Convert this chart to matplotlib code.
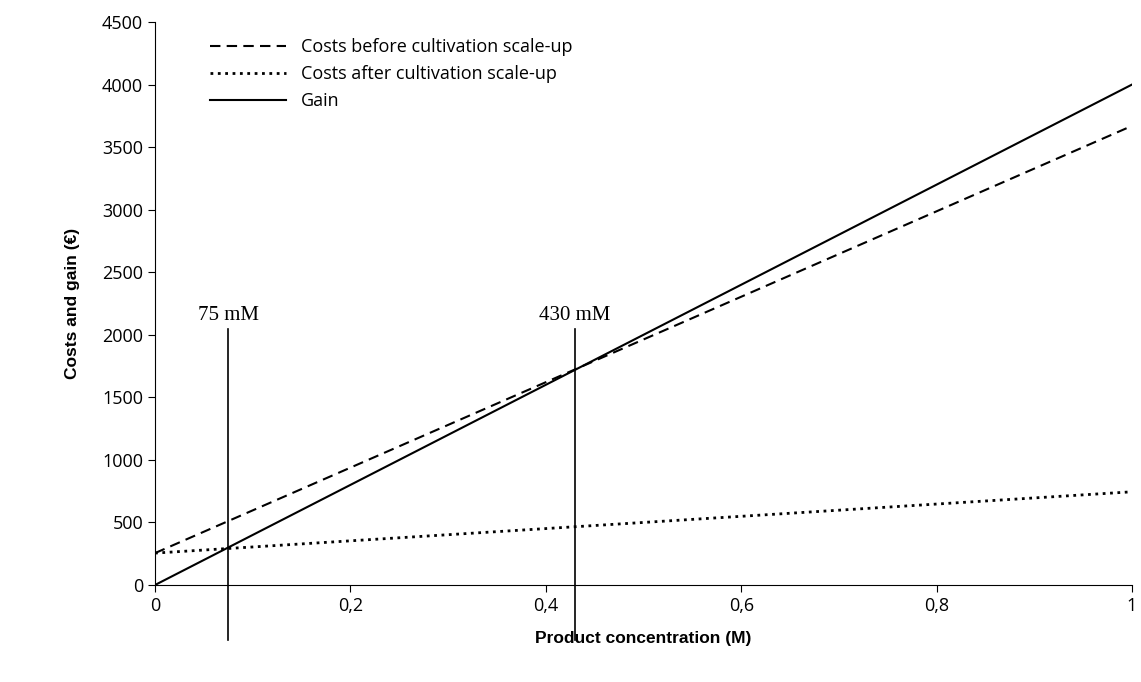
import matplotlib.pyplot as plt
import numpy as np

conc = [0, 1]
costs_before = [255, 3670]
costs_after = [255, 745]
gain = [0, 4000]
markers = [0.075, 0.43]
marker_labels = ["75 mM", "430 mM"]
xticks = [0, 0.2, 0.4, 0.6, 0.8, 1]
xticklabels = ["0", "0,2", "0,4", "0,6", "0,8", "1"]
yticks = list(range(0, 4501, 500))

plt.rcParams['font.family'] = ['Open Sans', 'DejaVu Sans']
fig = plt.figure(figsize=(11.41, 6.82), dpi=100)
ax = fig.add_axes([155 / 1141, 1 - 585 / 682, (1132 - 155) / 1141, (585 - 22) / 682])

ax.plot(conc, costs_before, 'k--', lw=1.5, dashes=(5, 3), label="Costs before cultivation scale-up")
ax.plot(conc, costs_after, 'k:', lw=2, label="Costs after cultivation scale-up")
ax.plot(conc, gain, 'k-', lw=1.5, label="Gain")

for xm, lab in zip(markers, marker_labels):
    ax.plot([xm, xm], [-440, 2050], 'k-', lw=1.2, clip_on=False)
    ax.text(xm, 2080, lab, ha='center', va='bottom', fontsize=15, family='Liberation Serif')

ax.set_xlim(0, 1)
ax.set_ylim(0, 4500)
ax.set_xticks(xticks)
ax.set_xticklabels(xticklabels)
ax.set_yticks(yticks)
ax.tick_params(labelsize=13, length=5)
ax.spines['top'].set_visible(False)
ax.spines['right'].set_visible(False)
ax.set_xlabel("Product concentration (M)", fontsize=12.5, fontweight='bold', labelpad=12,
              family='Liberation Sans')
ax.set_ylabel("Costs and gain (€)", fontsize=12.5, fontweight='bold', labelpad=16,
              family='Liberation Sans')
ax.legend(loc='upper left', bbox_to_anchor=(0.04, 1.0), frameon=False, fontsize=13,
          handlelength=4.2)

fig.savefig("out.png", dpi=100)
